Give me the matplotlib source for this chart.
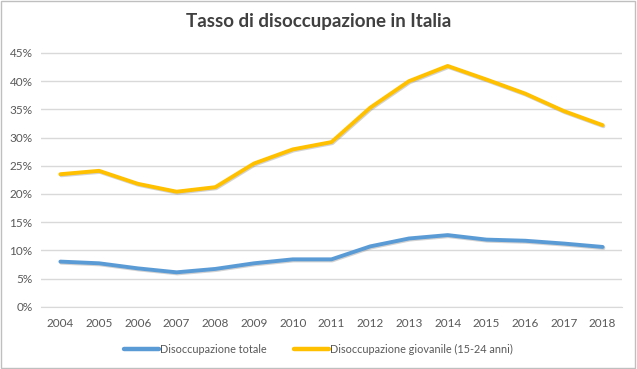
import numpy as np
import matplotlib
matplotlib.use("Agg")
import matplotlib.pyplot as plt
import matplotlib.patheffects as pe
from matplotlib.ticker import FuncFormatter

anni = [2004, 2005, 2006, 2007, 2008, 2009, 2010, 2011, 2012, 2013, 2014, 2015, 2016, 2017, 2018]
totale = [8.0, 7.7, 6.8, 6.1, 6.7, 7.7, 8.4, 8.4, 10.7, 12.1, 12.7, 11.9, 11.7, 11.2, 10.6]
giovanile = [23.5, 24.1, 21.8, 20.4, 21.2, 25.4, 27.9, 29.2, 35.3, 40.0, 42.7, 40.3, 37.8, 34.7, 32.2]

plt.rcParams['font.family'] = ['Lato', 'DejaVu Sans']

fig = plt.figure(figsize=(6.37, 3.69), dpi=100)
ax = fig.add_axes([41/637, 1 - 306.7/369, 581/637, 253.7*50/45/369])

x = np.arange(len(anni))
ombra = [pe.SimpleLineShadow(offset=(0.6, -0.8), shadow_color='#808080', alpha=0.35), pe.Normal()]
ax.plot(x, totale, color='#5B9BD5', lw=2.8, solid_capstyle='round', label='Disoccupazione totale', path_effects=ombra)
ax.plot(x, giovanile, color='#FFC000', lw=2.8, solid_capstyle='round', label='Disoccupazione giovanile (15-24 anni)', path_effects=ombra)

ax.set_xlim(-0.5, len(anni) - 0.5)
ax.set_ylim(0, 50)
ax.set_yticks(np.arange(0, 46, 5))
ax.yaxis.set_major_formatter(FuncFormatter(lambda v, p: '%d%%' % v))
ax.set_xticks(x)
ax.set_xticklabels([str(a) for a in anni])
ax.grid(axis='y', color='#D9D9D9', lw=1)
ax.set_axisbelow(True)
for s in ['top', 'right', 'left']:
    ax.spines[s].set_visible(False)
ax.spines['bottom'].set_color('#D9D9D9')
ax.tick_params(length=0, labelsize=8.5, colors='#595959', pad=8)
ax.tick_params(axis='y', pad=6)
ax.patch.set_alpha(0)

fig.text(0.5, 1 - 22/369, 'Tasso di disoccupazione in Italia', ha='center', va='center',
         fontsize=13.5, fontweight='bold', color='#404040')

leg = fig.legend(loc='center', bbox_to_anchor=(0.5, 1 - 349/369), ncol=2, frameon=False,
                 fontsize=7.8, handlelength=3.2, columnspacing=2.6, handletextpad=0.1)
for t in leg.get_texts():
    t.set_color('#595959')
for l in leg.get_lines():
    l.set_path_effects([])
    l.set_linewidth(3.2)

fig.patches.append(plt.Rectangle((0.002, 0.003), 0.995, 0.994, transform=fig.transFigure,
                                 fill=False, edgecolor='#BFBFBF', lw=1))

plt.savefig('out.png', dpi=100)
